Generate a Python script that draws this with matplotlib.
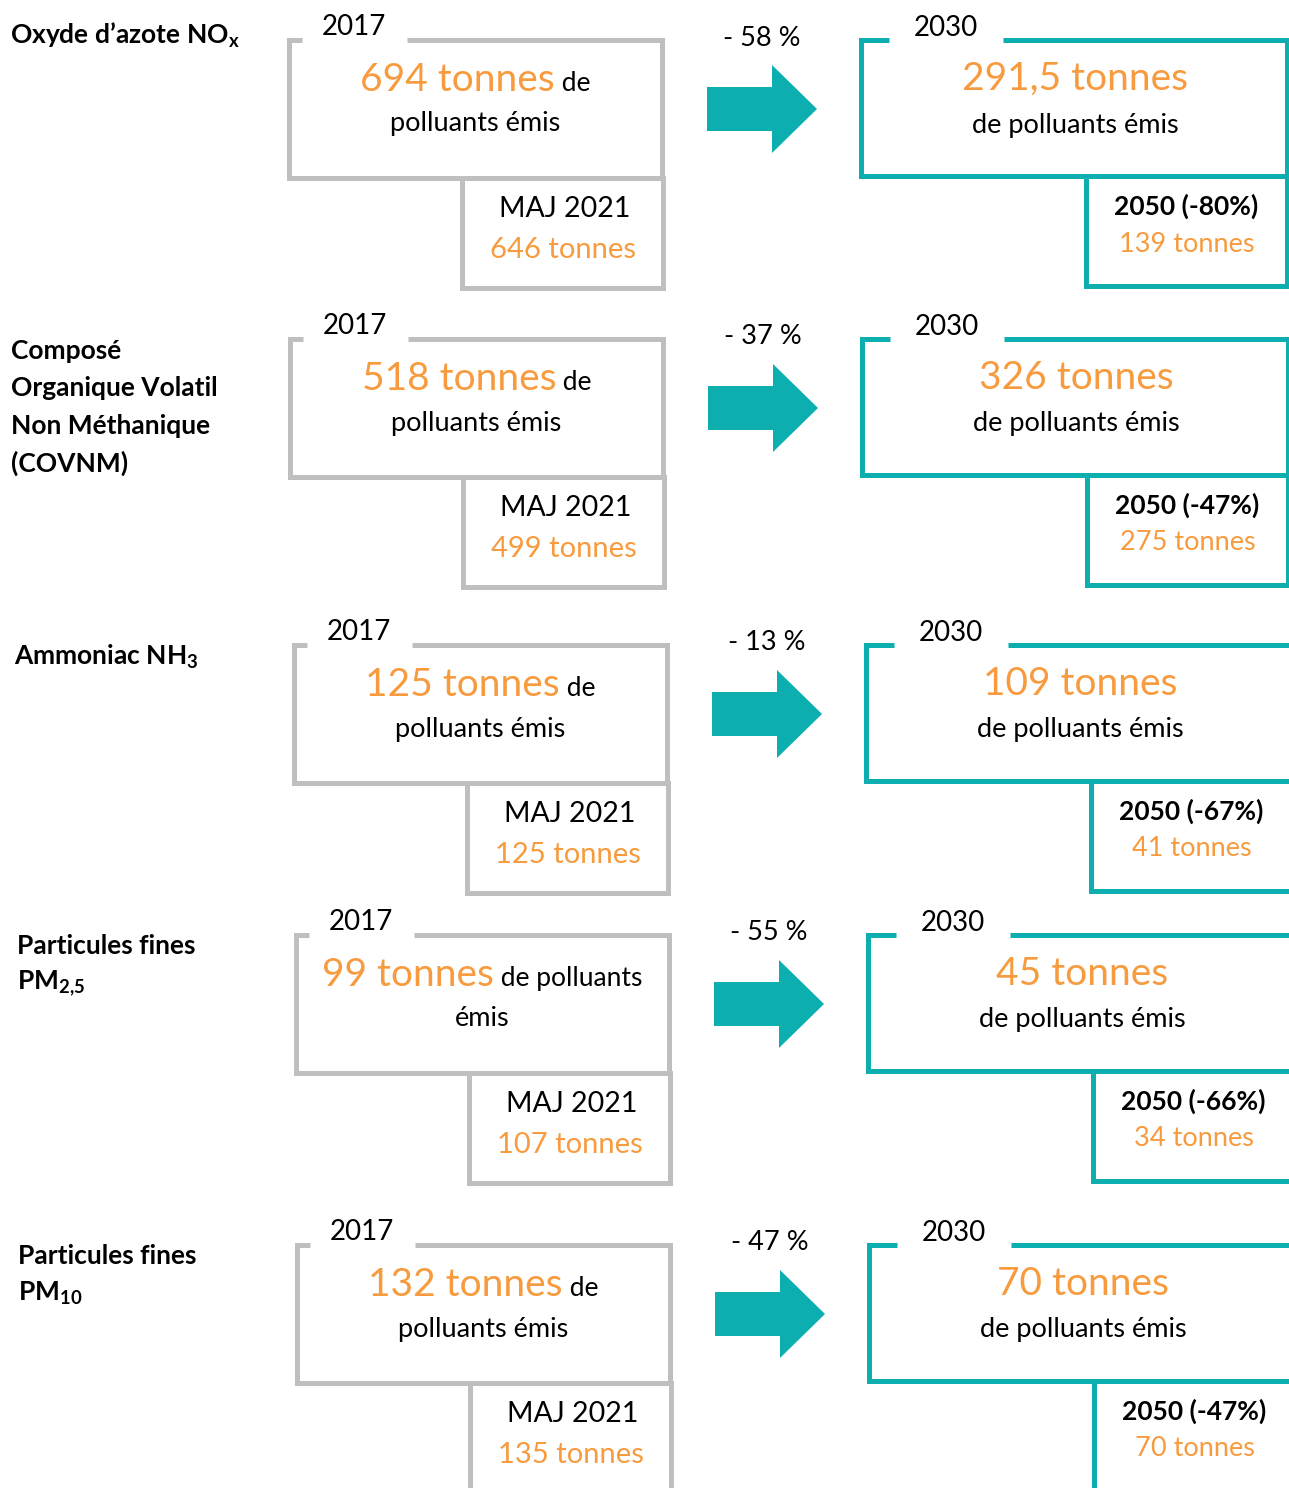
import matplotlib
matplotlib.use("Agg")
import matplotlib.pyplot as plt
from matplotlib.patches import Polygon

plt.rcParams['font.family'] = ['Lato', 'DejaVu Sans']
plt.rcParams['mathtext.fontset'] = 'custom'
plt.rcParams['mathtext.rm'] = 'Lato'
plt.rcParams['mathtext.bf'] = 'Lato:bold'

# data
labels = [[r"Oxyde d’azote NO$_\mathbf{x}$"],
          ["Composé", "Organique Volatil", "Non Méthanique", "(COVNM)"],
          [r"Ammoniac NH$_\mathbf{3}$"],
          ["Particules fines", r"PM$_\mathbf{2{,}5}$"],
          ["Particules fines", r"PM$_\mathbf{10}$"]]
v2017 = ["694", "518", "125", "99", "132"]
v2021 = ["646", "499", "125", "107", "135"]
v2030 = ["291,5", "326", "109", "45", "70"]
red2030 = [58, 37, 13, 55, 47]
v2050 = ["139", "275", "41", "34", "70"]
red2050 = [80, 47, 67, 66, 47]
line1_tail = ["de", "de", "de", "de polluants", "de"]
line2 = ["polluants émis", "polluants émis", "polluants émis", "émis", "polluants émis"]

# layout (pixels)
row_top = [40, 339, 645, 935, 1245]
xoff = [0, 1, 5, 7, 8]
lab_x = [10, 11, 14, 17, 18]
lab_dy = [-5, 12, 12, 11, 11]

ORANGE = '#F79B3E'
TEAL = '#0DAEAF'
GRAY = '#BFBFBF'
LW = 3.6

fig = plt.figure(figsize=(12.89, 14.88), dpi=100)
ax = fig.add_axes([0, 0, 1, 1])
ax.set_xlim(0, 1289)
ax.set_ylim(1488, 0)
ax.axis('off')


def frame(x0, x1, y0, y1, color, gap=None):
    if gap:
        xs = [x0 + gap[1], x1, x1, x0, x0, x0 + gap[0]]
        ys = [y0, y0, y1, y1, y0, y0]
    else:
        xs = [x0, x1, x1, x0, x0]
        ys = [y0, y0, y1, y1, y0]
    ax.plot(xs, ys, color=color, lw=LW, solid_joinstyle='miter',
            solid_capstyle='butt', clip_on=True)


mixed = []  # lines of several texts to center later

for i in range(5):
    t = row_top[i]
    o = xoff[i]

    # pollutant label
    for k, s in enumerate(labels[i]):
        ax.text(lab_x[i], t + lab_dy[i] + k * 37.5, s, fontsize=19,
                fontweight='bold', va='center', ha='left')

    # 2017 box
    bx0, bx1 = 289 + o, 662 + o
    frame(bx0, bx1, t, t + 138, GRAY, gap=(13, 118))
    ax.text(bx0 + 65, t - 13, "2017", fontsize=20, ha='center', va='center')
    cx = (bx0 + bx1) / 2
    a = ax.text(0, t + 51, v2017[i] + " tonnes", fontsize=28, color=ORANGE,
                va='baseline')
    b = ax.text(0, t + 51, " " + line1_tail[i], fontsize=19, va='baseline')
    mixed.append((cx, [a, b]))
    ax.text(cx, t + 84, line2[i], fontsize=19.5, ha='center', va='center')

    # MAJ 2021 box
    mx0, mx1 = bx0 + 173, bx1 + 1
    frame(mx0, mx1, t + 138, t + 248, GRAY)
    ax.text((mx0 + mx1) / 2 + 2, t + 169, "MAJ 2021", fontsize=20.5,
            ha='center', va='center')
    ax.text((mx0 + mx1) / 2, t + 210, v2021[i] + " tonnes", fontsize=21,
            color=ORANGE, ha='center', va='center')

    # arrow
    ax0 = 707 + o
    cy = t + 69
    arrow = Polygon([(ax0, cy - 22), (ax0 + 65, cy - 22), (ax0 + 65, cy - 44),
                     (ax0 + 110, cy), (ax0 + 65, cy + 44), (ax0 + 65, cy + 22),
                     (ax0, cy + 22)], closed=True, facecolor=TEAL,
                    edgecolor='none')
    ax.add_patch(arrow)
    ax.text(ax0 + 55, t - 2, "- %d %%" % red2030[i], fontsize=19.5,
            ha='center', va='center')

    # 2030 box
    tx0, tx1 = 861 + o, 1287 + o
    frame(tx0, tx1, t, t + 136, TEAL, gap=(28, 142))
    ax.text(tx0 + 85, t - 12, "2030", fontsize=20, ha='center', va='center')
    ax.text(1075 + o, t + 39, v2030[i] + " tonnes", fontsize=28,
            color=ORANGE, ha='center', va='center')
    ax.text(1075 + o, t + 85, "de polluants émis", fontsize=19.5,
            ha='center', va='center')

    # 2050 box
    fx0 = tx0 + 225
    frame(fx0, tx1, t + 136, t + 246, TEAL)
    fc = (fx0 + tx1) / 2
    ax.text(fc, t + 166, "2050 (-%d%%)" % red2050[i], fontsize=19,
            fontweight='bold', ha='center', va='center')
    ax.text(fc, t + 204, v2050[i] + " tonnes", fontsize=19.5, color=ORANGE,
            ha='center', va='center')

# center the mixed-style lines
fig.canvas.draw()
r = fig.canvas.get_renderer()
inv = ax.transData.inverted()
for cx, parts in mixed:
    widths = []
    for p in parts:
        bb = p.get_window_extent(r)
        (x0, _), (x1, _) = inv.transform([(bb.x0, 0), (bb.x1, 0)])
        widths.append(x1 - x0)
    x = cx - sum(widths) / 2
    for p, w in zip(parts, widths):
        p.set_x(x)
        x += w

fig.savefig("out.png", dpi=100, facecolor='white')
